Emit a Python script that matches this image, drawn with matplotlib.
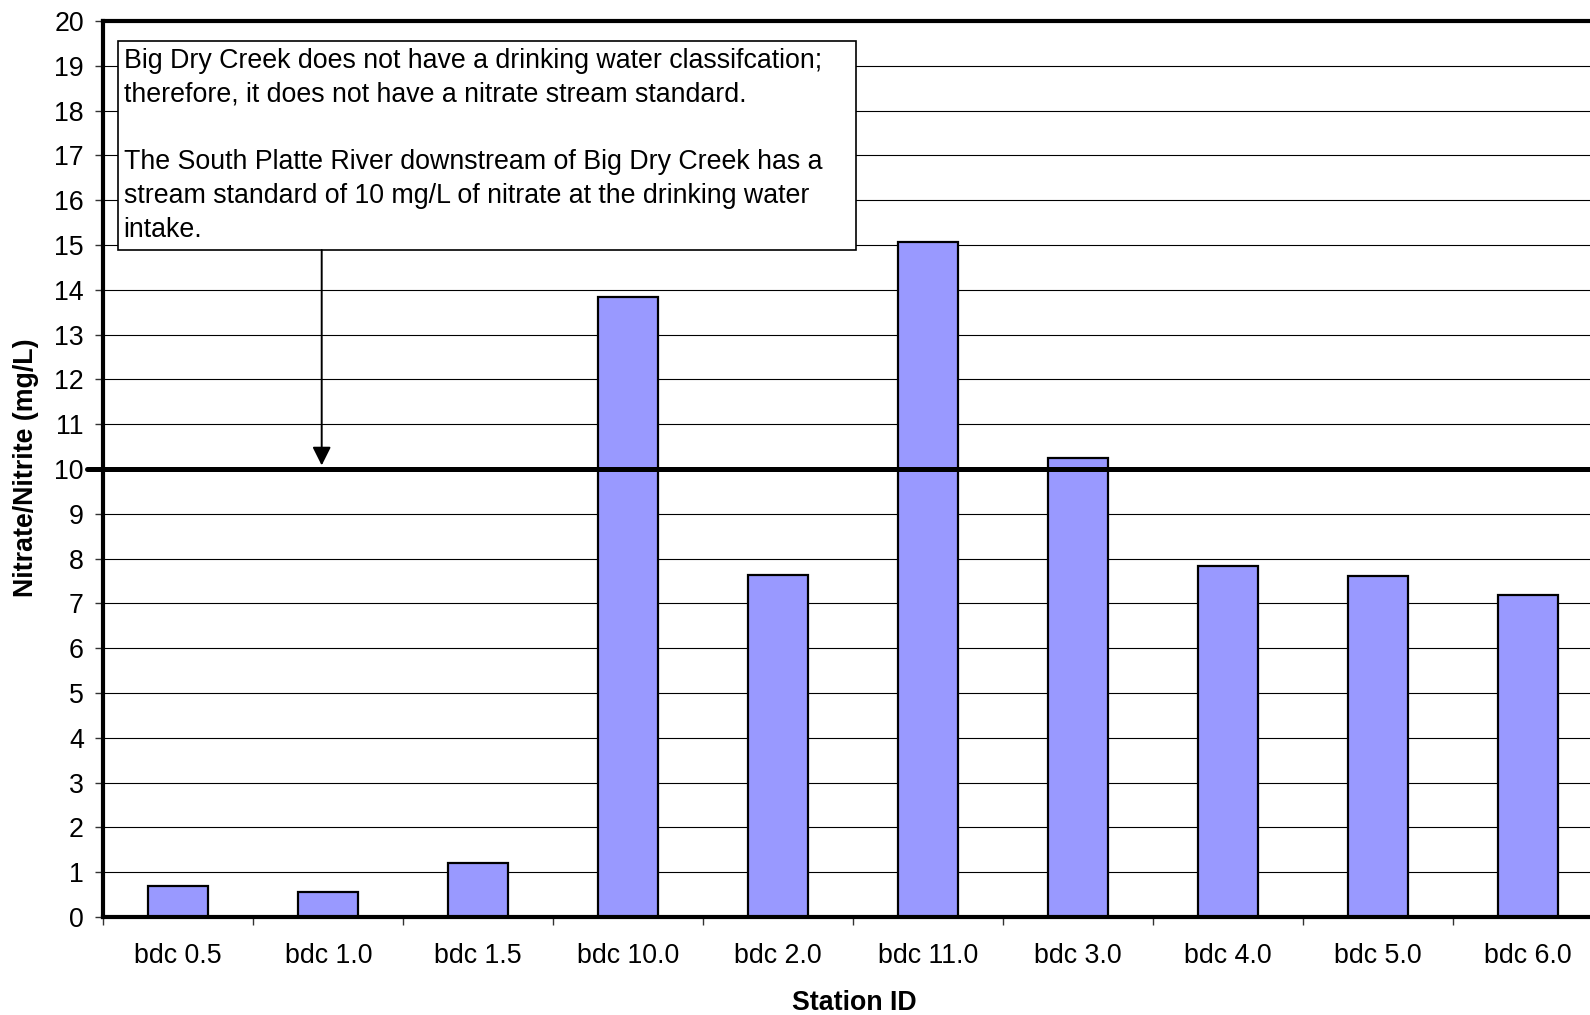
import matplotlib
matplotlib.use("Agg")
import matplotlib.pyplot as plt
from matplotlib.patches import Rectangle
import numpy as np

plt.rcParams['font.family'] = ['Liberation Sans', 'DejaVu Sans']

stations = ["bdc 0.5", "bdc 1.0", "bdc 1.5", "bdc 10.0", "bdc 2.0",
            "bdc 11.0", "bdc 3.0", "bdc 4.0", "bdc 5.0", "bdc 6.0"]
nitrate = [0.70, 0.55, 1.20, 13.85, 7.64, 15.06, 10.24, 7.84, 7.62, 7.19]
standard = 10
y_ticks = list(range(0, 21))
note = ("Big Dry Creek does not have a drinking water classifcation;\n"
        "therefore, it does not have a nitrate stream standard.\n"
        "\n"
        "The South Platte River downstream of Big Dry Creek has a\n"
        "stream standard of 10 mg/L of nitrate at the drinking water\n"
        "intake.")

W, H = 1590, 1015
fig = plt.figure(figsize=(W / 100, H / 100), dpi=100)
left_px, right_px, top_px, bottom_px = 103.3, 1603.3, 21, 917
ax = fig.add_axes([left_px / W, 1 - bottom_px / H,
                   (right_px - left_px) / W, (bottom_px - top_px) / H])

x = np.arange(len(stations))
ax.bar(x, nitrate, width=0.4, color="#9999FF", edgecolor="black",
       linewidth=1.6, zorder=3)

ax.set_xlim(-0.5, len(stations) - 0.5)
ax.set_ylim(0, 20)

# grid
ax.set_yticks(y_ticks)
ax.set_yticklabels([str(t) for t in y_ticks])
ax.yaxis.grid(True, color="black", linewidth=0.8, zorder=0)
ax.set_axisbelow(True)

# x ticks: labels at centers, tick marks at boundaries
ax.set_xticks(x)
ax.set_xticklabels(stations)
ax.set_xticks(np.arange(len(stations) + 1) - 0.5, minor=True)
ax.tick_params(axis="x", which="major", length=0, pad=19, labelsize=19.3)
ax.tick_params(axis="x", which="minor", length=6, width=1, color="#333333")
ax.tick_params(axis="y", which="major", length=6, width=1, pad=8,
               labelsize=19.3, color="#333333")

for side in ["left", "bottom", "top", "right"]:
    ax.spines[side].set_linewidth(3)
    ax.spines[side].set_color("black")
    ax.spines[side].set_zorder(5)

# standard line
trans = matplotlib.transforms.blended_transform_factory(ax.transAxes, ax.transData)
ax.plot([-0.0107, 1.0], [standard, standard], transform=trans, color="black",
        linewidth=3.6, solid_capstyle="round", clip_on=False, zorder=4)

# note box
bx0, bx1 = (118 - left_px) / 1500, (856 - left_px) / 1500
by0, by1 = (bottom_px - 250) / 896, (bottom_px - 41) / 896
ax.add_patch(Rectangle((bx0, by0), bx1 - bx0, by1 - by0, transform=ax.transAxes,
                       facecolor="white", edgecolor="black", linewidth=1.2,
                       zorder=6))
ax.text((123.5 - left_px) / 1500, (bottom_px - 48) / 896, note,
        transform=ax.transAxes, fontsize=19.3, va="top", ha="left",
        linespacing=1.39, zorder=7)

# arrow
arrow_x = (321.7 - left_px) / 150 - 0.5
ax.annotate("", xy=(arrow_x, standard + 0.08), xytext=(arrow_x, by0 * 20),
            arrowprops=dict(arrowstyle="-|>", color="black", lw=1.4,
                            mutation_scale=28, shrinkA=0, shrinkB=0),
            zorder=6)

ax.set_xlabel("Station ID", fontsize=19.3, fontweight="bold")
ax.set_ylabel("Nitrate/Nitrite (mg/L)", fontsize=19.3, fontweight="bold")
ax.xaxis.set_label_coords((854 - left_px) / 1500, -(990 - bottom_px) / 896)
ax.yaxis.set_label_coords(-(left_px - 39) / 1500, (bottom_px - 468) / 896)

fig.savefig("out.png", dpi=100)
